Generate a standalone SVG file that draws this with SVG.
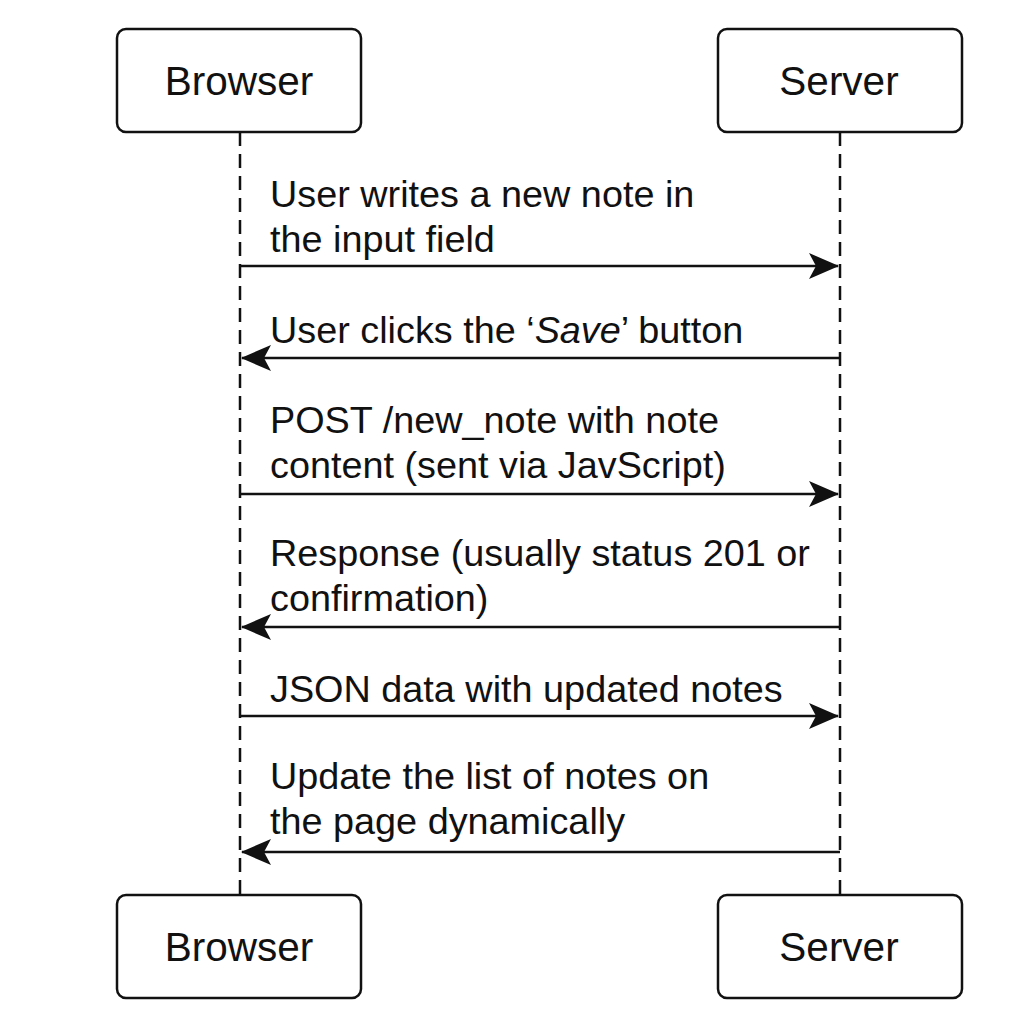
<svg xmlns="http://www.w3.org/2000/svg" width="1024" height="1024" viewBox="0 0 1024 1024">
<defs>
<style>
.box{fill:#fff;stroke:#111;stroke-width:2.5}
.lbl{font-family:"Liberation Sans",Arial,sans-serif;font-size:40.5px;fill:#111;text-anchor:middle}
.msg{font-family:"Liberation Sans",Arial,sans-serif;font-size:37.8px;fill:#111}
.life{stroke:#111;stroke-width:2.5;stroke-dasharray:14 8;fill:none}
.arr{stroke:#111;stroke-width:2.5;fill:none}
</style>
<marker id="ah" viewBox="0 0 30 28" refX="29" refY="14" markerWidth="30" markerHeight="28" markerUnits="userSpaceOnUse" orient="auto">
<path d="M0,1 L30,14 L0,27 L7,14 Z" fill="#111"/>
</marker>
</defs>
<rect width="1024" height="1024" fill="#fff"/>
<g id="lifelines">
<line class="life" x1="240" y1="132" x2="240" y2="895"/>
<line class="life" x1="840" y1="132" x2="840" y2="895"/>
</g>
<g id="browser-top"><rect class="box" x="117" y="29" width="244" height="103" rx="9"/><text class="lbl" x="239" y="95">Browser</text></g>
<g id="server-top"><rect class="box" x="718" y="29" width="244" height="103" rx="9"/><text class="lbl" x="839" y="95">Server</text></g>
<g id="browser-bottom"><rect class="box" x="117" y="895" width="244" height="103" rx="9"/><text class="lbl" x="239" y="961">Browser</text></g>
<g id="server-bottom"><rect class="box" x="718" y="895" width="244" height="103" rx="9"/><text class="lbl" x="839" y="961">Server</text></g>
<g id="connectors">
<line class="arr" x1="240" y1="266" x2="838" y2="266" marker-end="url(#ah)"/>
<line class="arr" x1="840" y1="358" x2="242" y2="358" marker-end="url(#ah)"/>
<line class="arr" x1="240" y1="494" x2="838" y2="494" marker-end="url(#ah)"/>
<line class="arr" x1="840" y1="627" x2="242" y2="627" marker-end="url(#ah)"/>
<line class="arr" x1="240" y1="716" x2="838" y2="716" marker-end="url(#ah)"/>
<line class="arr" x1="840" y1="852" x2="242" y2="852" marker-end="url(#ah)"/>
</g>
<g id="labels">
<text class="msg" x="270" y="207">User writes a new note in</text>
<text class="msg" x="270" y="252">the input field</text>
<text class="msg" x="270" y="343">User clicks the ‘<tspan font-style="italic">Save</tspan>’ button</text>
<text class="msg" x="270" y="433">POST /new_note with note</text>
<text class="msg" x="270" y="478">content (sent via JavScript)</text>
<text class="msg" x="270" y="566">Response (usually status 201 or</text>
<text class="msg" x="270" y="611">confirmation)</text>
<text class="msg" x="270" y="702">JSON data with updated notes</text>
<text class="msg" x="270" y="789">Update the list of notes on</text>
<text class="msg" x="270" y="834">the page dynamically</text>
</g>
</svg>
